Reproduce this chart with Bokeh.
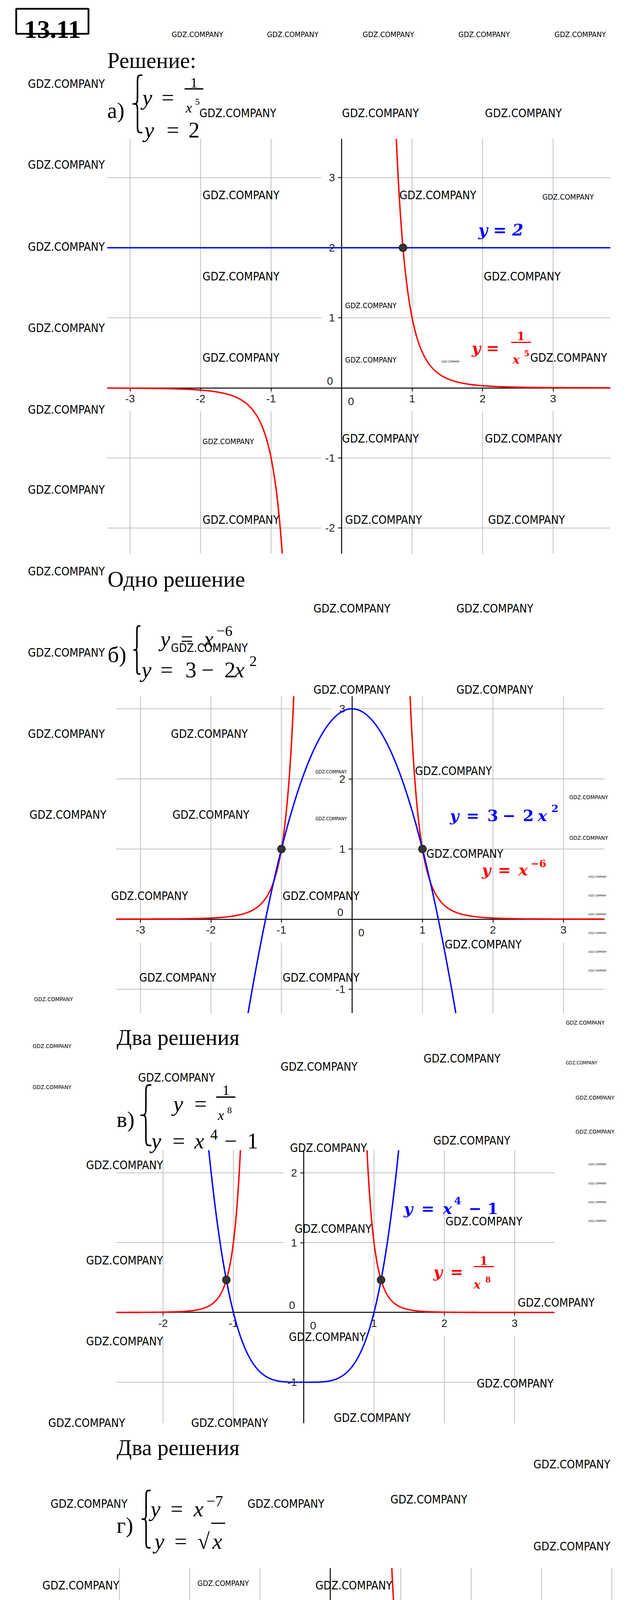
import subprocess
import numpy as np
from bokeh.plotting import figure
from bokeh.layouts import column
from bokeh.models import Range1d, LinearAxis, FixedTicker, LabelSet, ColumnDataSource
from bokeh.core.properties import value
from bokeh.embed import file_html
from bokeh.resources import INLINE

# ---------------- chart data ----------------
# а) y = 1/x^5 , y = 2
a_xticks = [-3, -2, -1, 1, 2, 3]
a_yticks = [-2, -1, 1, 2, 3]
a_const_y = 2.0
a_sol_x = [0.871]
a_sol_y = [2.0]

# б) y = x^-6 , y = 3 - 2x^2
b_xticks = [-3, -2, -1, 1, 2, 3]
b_yticks = [-1, 1, 2, 3]
b_sol_x = [-1.0, 1.0]
b_sol_y = [1.0, 1.0]

# в) y = 1/x^8 , y = x^4 - 1
c_xticks = [-2, -1, 1, 2, 3]
c_yticks = [-1, 1, 2]
c_sol_x = [-1.100, 1.100]
c_sol_y = [0.466, 0.466]

# г) y = x^-7 , y = sqrt(x)
d_xticks = [-3, -2, -1, 1, 2, 3, 4]
d_yticks = [-2, -1, 1, 2]
d_sol_x = [1.0]
d_sol_y = [1.0]


# the graphed functions, as written in the systems
def fa_red(x): return 1.0 / x ** 5
def fa_blue(x): return np.full_like(x, a_const_y)
def fb_red(x): return 1.0 / x ** 6
def fb_blue(x): return 3.0 - 2.0 * x ** 2
def fc_red(x): return 1.0 / x ** 8
def fc_blue(x): return x ** 4 - 1.0
def fd_red(x): return 1.0 / x ** 7
def fd_blue(x): return np.sqrt(x)


RED = "#ff0000"
BLUE = "#0000ff"
GRID = "#c0c0c0"

# ---------------- page / layout ----------------
OFF = 8
W = 1625
SERIF = "Liberation Serif"
MATH = "DejaVu Serif"
TICKFONT = "Liberation Sans"
SLICES = [(8, 1525), (1525, 2697), (2697, 3800), (3800, 5000), (5000, 5468)]


def pick_wm_font():
    try:
        out = subprocess.run(["fc-list", ":", "family"], capture_output=True,
                             text=True, timeout=10).stdout
    except Exception:
        out = ""
    fams = set()
    for line in out.splitlines():
        for f in line.split(","):
            fams.add(f.strip())
    for name, factor in [("Liberation Sans Narrow", 6.1),
                         ("DejaVu Sans Condensed", 6.8),
                         ("Liberation Sans", 7.45)]:
        if name in fams:
            return name, factor
    return "Liberation Sans", 7.45


WM_FONT, WM_FACTOR = pick_wm_font()

# panel boxes (page px), origin px and px per unit
PANELS = {
    "a": dict(box=(282, 363, 1570, 1425), origin=(882.0, 1000.5), unit=(180.5, 179.4),
              xt=a_xticks, yt=a_yticks, sol=(a_sol_x, a_sol_y),
              curves=[(fa_red, -10, -0.02, RED), (fa_red, 0.02, 10, RED),
                      (fa_blue, -10, 10, BLUE)]),
    "b": dict(box=(305, 1790, 1555, 2601), origin=(908.5, 2360.5), unit=(180.5, 179.5),
              xt=b_xticks, yt=b_yticks, sol=(b_sol_x, b_sol_y),
              curves=[(fb_red, -10, -0.02, RED), (fb_red, 0.02, 10, RED),
                      (fb_blue, -10, 10, BLUE)]),
    "c": dict(box=(305, 2952, 1427, 3651), origin=(785.0, 3367.3), unit=(180.0, 178.7),
              xt=c_xticks, yt=c_yticks, sol=(c_sol_x, c_sol_y),
              curves=[(fc_red, -10, -0.02, RED), (fc_red, 0.02, 10, RED),
                      (fc_blue, -10, 10, BLUE)]),
    "d": dict(box=(273, 4022, 1598, 4901), origin=(853.4, 4486.0), unit=(180.1, 178.5),
              xt=d_xticks, yt=d_yticks, sol=(d_sol_x, d_sol_y),
              curves=[(fd_red, -10, -0.02, RED), (fd_red, 0.02, 10, RED),
                      (fd_blue, 0.0, 10, BLUE)]),
}


def clip_curve(xs, ys, lo, hi):
    ox, oy = [], []
    inside = (ys >= lo) & (ys <= hi)
    n = len(xs)
    for i in range(n):
        if not inside[i]:
            continue
        if i > 0 and not inside[i - 1]:
            b = hi if ys[i - 1] > hi else lo
            t = (b - ys[i - 1]) / (ys[i] - ys[i - 1])
            ox.append(xs[i - 1] + t * (xs[i] - xs[i - 1])); oy.append(b)
        ox.append(xs[i]); oy.append(ys[i])
        if i < n - 1 and not inside[i + 1]:
            b = hi if ys[i + 1] > hi else lo
            t = (b - ys[i]) / (ys[i + 1] - ys[i])
            ox.append(xs[i] + t * (xs[i + 1] - xs[i])); oy.append(b)
    return ox, oy


def draw_panel(p, ys_, ye_, key):
    cfg = PANELS[key]
    left, top, right, bottom = cfg["box"]
    X0, Y0 = cfg["origin"]
    sx, sy = cfg["unit"]
    xt, yt = cfg["xt"], cfg["yt"]
    xmin, xmax = (left - X0) / sx, (right - X0) / sx
    ymax, ymin = (Y0 - top) / sy, (Y0 - bottom) / sy
    xn, yn = "x_" + key, "y_" + key
    p.extra_x_ranges[xn] = Range1d((OFF - X0) / sx, (OFF + W - X0) / sx)
    p.extra_y_ranges[yn] = Range1d((Y0 - ye_) / sy, (Y0 - ys_) / sy)
    kw = dict(x_range_name=xn, y_range_name=yn)

    # grid, with the little white gaps GeoGebra leaves around the tick labels
    g1, g2 = 14.0 / sy, 60.0 / sy
    gx = 52.0 / sx
    n = len(xt)
    p.segment(x0=xt + xt, y0=[ymax] * n + [-g2] * n, x1=xt + xt, y1=[-g1] * n + [ymin] * n,
              line_color=GRID, line_width=2, level="image", **kw)
    m = len(yt)
    p.segment(x0=[xmin] * m + [0] * m, y0=yt + yt, x1=[-gx] * m + [xmax] * m, y1=yt + yt,
              line_color=GRID, line_width=2, level="image", **kw)

    # axes through the origin (GeoGebra prints short hyphens for negatives)
    common = dict(fixed_location=0, major_label_text_font=TICKFONT,
                  major_label_text_font_size="28px", major_label_text_color="#1e1e1e",
                  major_tick_in=0, minor_tick_line_color=None, axis_line_color="black",
                  axis_line_width=2.5, major_tick_line_color="black", major_tick_line_width=2,
                  level="underlay", **kw)
    xa = LinearAxis(bounds=(xmin, xmax), ticker=FixedTicker(ticks=xt), major_tick_out=8,
                    major_label_standoff=10,
                    major_label_overrides={v: "%d" % v for v in xt if v < 0}, **common)
    ya = LinearAxis(bounds=(ymin, ymax), ticker=FixedTicker(ticks=yt), major_tick_out=9,
                    major_label_standoff=8,
                    major_label_overrides={v: "%d" % v for v in yt if v < 0}, **common)
    p.add_layout(xa, "below")
    p.add_layout(ya, "left")

    # the two "0" labels at the origin
    lab = dict(text_font=value(TICKFONT), text_font_size="28px", text_color="#1e1e1e",
               text_baseline="middle", level="underlay", **kw)
    z1 = ColumnDataSource(dict(x=[0], y=[0], t=["0"]))
    p.add_layout(LabelSet(x="x", y="y", text="t", source=z1, x_offset=24, y_offset=-34,
                          text_align="center", **lab), "center")
    z2 = ColumnDataSource(dict(x=[0], y=[0], t=["0"]))
    p.add_layout(LabelSet(x="x", y="y", text="t", source=z2, x_offset=-22, y_offset=18,
                          text_align="right", **lab), "center")

    # curves
    for f, x0, x1, color in cfg["curves"]:
        xs = np.linspace(max(x0, xmin), min(x1, xmax), 6000)
        cx, cy = clip_curve(xs, f(xs), ymin, ymax)
        if cx:
            p.line(cx, cy, line_color=color, line_width=3.6, **kw)

    sxs, sys_ = cfg["sol"]
    p.scatter(sxs, sys_, size=20, fill_color="#333333", line_color="#1a1a1a",
              line_width=1.5, **kw)


# ---------------- page texts ----------------
TEXTS = []


def put(text, x, y, size, style="normal", font=SERIF, color="black", align="left"):
    TEXTS.append(dict(text=text, x=x, y=y, size=size, style=style, font=font,
                      color=color, align=align))


M = 57
put("13.11", 142, 83, 66, "bold", align="center")
put("Решение:", 282, 162, M)

# а)
put("а)", 282, 290, M)
put("y", 372, 257, M, "italic"); put("=", 421, 257, M)
put("1", 504, 219, 36, align="center")
put("x", 483, 283, 36, "italic"); put("5", 507, 268, 24)
put("y", 377, 340, M, "italic"); put("=", 434, 340, M); put("2", 490, 340, M)
put("Одно решение", 283, 1490, M)

# б)
put("б)", 283, 1683, M)
put("y", 418, 1643, M, "italic"); put("=", 470, 1643, M); put("x", 529, 1643, M, "italic")
put("−6", 562, 1623, 38)
put("y", 370, 1722, M, "italic"); put("=", 418, 1722, M); put("3", 482, 1722, M)
put("−", 523, 1722, M); put("2", 582, 1722, M); put("x", 608, 1722, M, "italic")
put("2", 646, 1700, 38)
put("Два решения", 306, 2663, M)

# в)
put("в)", 306, 2873, M)
put("y", 451, 2833, M, "italic"); put("=", 505, 2833, M)
put("1", 586, 2798, 36, align="center")
put("x", 565, 2862, 36, "italic"); put("8", 589, 2850, 24)
put("y", 395, 2928, M, "italic"); put("=", 449, 2928, M); put("x", 505, 2928, M, "italic")
put("4", 546, 2912, 38); put("−", 582, 2928, M); put("1", 640, 2928, M)
put("Два решения", 306, 3713, M)

# г)
put("г)", 306, 3912, M)
put("y", 393, 3870, M, "italic"); put("=", 444, 3870, M); put("x", 503, 3870, M, "italic")
put("−7", 536, 3850, 40)
put("y", 403, 3953, M, "italic"); put("=", 454, 3953, M); put("√", 513, 3953, M)
put("x", 551, 3953, M, "italic")
put("Одно решение", 276, 4964, M)

put("Ответ:", 276, 5119, M)
put("а) Одно решение", 276, 5196, M)
put("б) Два решения", 276, 5272, M)
put("в) Два решения", 276, 5349, M)
put("г) Одно решение", 276, 5426, M)

# graph labels (inside the plots)
put("y = 2", 1232, 596, 41, "bold italic", MATH, BLUE)
put("y =", 1215, 898, 40, "bold italic", MATH, RED)
put("1", 1341, 867, 30, "bold", MATH, RED, "center")
put("x", 1320, 928, 30, "bold italic", MATH, RED); put("5", 1349, 912, 20, "bold", MATH, RED)

put("y", 1159, 2095, 40, "bold italic", MATH, BLUE)
put("=", 1201, 2095, 40, "bold", MATH, BLUE); put("3", 1255, 2095, 40, "bold", MATH, BLUE)
put("−", 1294, 2095, 40, "bold", MATH, BLUE); put("2", 1346, 2095, 40, "bold", MATH, BLUE)
put("x", 1384, 2095, 40, "bold italic", MATH, BLUE); put("2", 1419, 2077, 26, "bold", MATH, BLUE)
put("y", 1241, 2234, 40, "bold italic", MATH, RED); put("=", 1282, 2234, 40, "bold", MATH, RED)
put("x", 1335, 2234, 40, "bold italic", MATH, RED); put("−6", 1366, 2218, 26, "bold", MATH, RED)

put("y", 1041, 3101, 40, "bold italic", MATH, BLUE); put("=", 1086, 3101, 40, "bold", MATH, BLUE)
put("x", 1141, 3101, 40, "bold italic", MATH, BLUE); put("4", 1170, 3081, 26, "bold", MATH, BLUE)
put("−", 1207, 3101, 40, "bold", MATH, BLUE); put("1", 1255, 3101, 40, "bold", MATH, BLUE)
put("y", 1117, 3263, 40, "bold italic", MATH, RED); put("=", 1160, 3263, 40, "bold", MATH, RED)
put("1", 1246, 3234, 30, "bold", MATH, RED, "center")
put("x", 1220, 3296, 30, "bold italic", MATH, RED); put("8", 1250, 3283, 20, "bold", MATH, RED)

put("y", 1127, 4147, 40, "bold italic", MATH, BLUE); put("=", 1170, 4147, 40, "bold", MATH, BLUE)
put("√", 1228, 4147, 40, "bold", MATH, BLUE); put("x", 1268, 4147, 40, "bold italic", MATH, BLUE)
put("y", 1185, 4364, 40, "bold italic", MATH, RED); put("=", 1228, 4364, 40, "bold", MATH, RED)
put("x", 1278, 4364, 40, "bold italic", MATH, RED); put("−7", 1312, 4346, 26, "bold", MATH, RED)

# fraction bars / radical bars: (x0, x1, y, color, width)
BARS = [(480, 528, 235, "black", 3.5), (561, 610, 2816, "black", 3.5),
        (548, 584, 3907, "black", 3), (1316, 1367, 884, RED, 3),
        (1220, 1272, 3250, RED, 3), (1260, 1304, 4110, BLUE, 3)]

# braces of the systems: (x_left, x_right, top, bottom)
BRACES = [(347, 372, 200, 347), (349, 367, 1610, 1733),
          (367, 395, 2785, 2940), (370, 393, 3823, 3970)]


def brace_pts(xl, xr, top, bot, n=24):
    xm = (xl + xr) / 2.0
    mid = (top + bot) / 2.0
    d = (xr - xl) * 1.1
    t = np.linspace(0, 1, n)[:, None]

    def bez(p0, p1, p2, p3):
        p0, p1, p2, p3 = map(np.array, (p0, p1, p2, p3))
        return (1 - t) ** 3 * p0 + 3 * (1 - t) ** 2 * t * p1 + 3 * (1 - t) * t ** 2 * p2 + t ** 3 * p3

    parts = [bez((xr, top), (xm, top), (xm, top), (xm, top + d)),
             np.array([[xm, top + d], [xm, mid - d]]),
             bez((xm, mid - d), (xm, mid), (xm, mid), (xl, mid)),
             bez((xl, mid), (xm, mid), (xm, mid), (xm, mid + d)),
             np.array([[xm, mid + d], [xm, bot - d]]),
             bez((xm, bot - d), (xm, bot), (xm, bot), (xr, bot))]
    P = np.vstack(parts)
    return P[:, 0].tolist(), P[:, 1].tolist()


# ---------------- watermarks ----------------
WM_W = {"L": 190, "M": 127, "S": 96, "T": 78, "X": 45}
WM = [
    ("M", 447, 96), ("M", 691, 96), ("M", 936, 96), ("M", 1181, 96), ("M", 1427, 96),
    ("L", 79, 222), ("L", 518, 297), ("L", 883, 297), ("L", 1249, 297), ("L", 79, 429),
    ("L", 526, 507), ("L", 1030, 507), ("M", 1396, 512), ("L", 79, 639), ("L", 526, 715),
    ("L", 1246, 715), ("M", 891, 790), ("L", 79, 847), ("L", 526, 923), ("M", 891, 929),
    ("X", 1138, 933), ("L", 1365, 923), ("L", 79, 1056), ("M", 526, 1138), ("L", 883, 1130),
    ("L", 1249, 1130), ("L", 79, 1261), ("L", 526, 1338), ("L", 891, 1338), ("L", 1257, 1338),
    ("L", 79, 1470), ("L", 810, 1565), ("L", 1176, 1565), ("L", 79, 1678), ("L", 445, 1666),
    ("L", 810, 1773), ("L", 1176, 1773), ("L", 79, 1886), ("L", 445, 1886), ("T", 815, 1983),
    ("L", 1070, 1981), ("S", 1465, 2048), ("T", 815, 2103), ("L", 83, 2093), ("L", 449, 2093),
    ("S", 1465, 2152), ("L", 1099, 2193), ("X", 1514, 2252), ("L", 292, 2301), ("L", 731, 2301),
    ("X", 1514, 2300), ("X", 1514, 2348), ("X", 1514, 2396), ("L", 1146, 2425),
    ("X", 1514, 2444), ("X", 1514, 2492), ("L", 364, 2510), ("L", 731, 2510), ("S", 95, 2565),
    ("S", 1456, 2625), ("S", 91, 2685), ("L", 1092, 2717), ("T", 1456, 2728), ("L", 726, 2738),
    ("L", 361, 2766), ("S", 91, 2790), ("S", 1481, 2817), ("S", 1481, 2904), ("L", 1117, 2927),
    ("L", 750, 2946), ("X", 1514, 2988), ("L", 228, 2990), ("X", 1514, 3037), ("X", 1514, 3085),
    ("X", 1514, 3133), ("L", 1148, 3134), ("L", 762, 3153), ("L", 228, 3234), ("L", 1333, 3342),
    ("L", 747, 3430), ("L", 228, 3441), ("L", 1228, 3549), ("L", 862, 3637), ("L", 131, 3650),
    ("L", 497, 3650), ("L", 1373, 3756), ("L", 1007, 3846), ("L", 137, 3857), ("L", 641, 3857),
    ("L", 1373, 3966), ("L", 116, 4066), ("M", 513, 4061), ("L", 815, 4066), ("M", 513, 4200),
    ("L", 1373, 4203), ("L", 116, 4273), ("L", 831, 4273), ("M", 530, 4341), ("L", 1373, 4410),
    ("L", 79, 4483), ("T", 509, 4476), ("M", 707, 4505), ("L", 1007, 4551), ("L", 1373, 4617),
    ("S", 493, 4645), ("M", 707, 4645), ("L", 116, 4688), ("L", 1007, 4756), ("L", 606, 4864),
    ("L", 1373, 4864), ("L", 116, 4896), ("L", 1007, 4965), ("L", 641, 5073), ("L", 1373, 5073),
    ("L", 79, 5104), ("L", 1007, 5173), ("L", 1373, 5281), ("L", 641, 5294), ("L", 79, 5312),
    ("M", 1072, 5376),
]


# ---------------- build the page as stacked slices ----------------
def make_slice(ys_, ye_):
    p = figure(width=W, height=ye_ - ys_, output_backend="svg", toolbar_location=None,
               x_range=Range1d(OFF, OFF + W), y_range=Range1d(ye_, ys_),
               x_axis_type=None, y_axis_type=None, min_border=0, title=None)
    p.outline_line_color = None
    p.background_fill_color = "white"
    p.border_fill_color = "white"

    for key, cfg in PANELS.items():
        if cfg["box"][1] < ye_ and cfg["box"][3] > ys_:
            draw_panel(p, ys_, ye_, key)

    sel = [t for t in TEXTS if t["y"] - 0.85 * t["size"] < ye_ and t["y"] + 0.3 * t["size"] > ys_]
    if sel:
        src = ColumnDataSource(dict(
            x=[t["x"] for t in sel], y=[t["y"] for t in sel], text=[t["text"] for t in sel],
            size=["%dpx" % t["size"] for t in sel], font=[t["font"] for t in sel],
            style=[t["style"] for t in sel], color=[t["color"] for t in sel],
            align=[t["align"] for t in sel]))
        p.text(x="x", y="y", text="text", source=src, text_font="font",
               text_font_size="size", text_font_style="style", text_color="color",
               text_align="align", text_baseline="alphabetic")

    bars = [b for b in BARS if ys_ <= b[2] < ye_]
    if bars:
        p.segment(x0=[b[0] for b in bars], y0=[b[2] for b in bars],
                  x1=[b[1] for b in bars], y1=[b[2] for b in bars],
                  line_color=[b[3] for b in bars], line_width=[b[4] for b in bars])

    if ys_ <= 30 < ye_:
        p.quad(left=[49], right=[234], top=[30], bottom=[94], fill_color=None,
               line_color="black", line_width=4.5)

    bx, by = [], []
    for xl, xr, tp, bt in BRACES:
        if tp < ye_ and bt > ys_:
            a, b = brace_pts(xl, xr, tp, bt)
            bx.append(a); by.append(b)
    if bx:
        p.multi_line(bx, by, line_color="black", line_width=4)

    wms = []
    for cls, x, y in WM:
        fs = WM_W[cls] / WM_FACTOR * 1.05
        if y - 0.6 * fs < ye_ and y + 0.6 * fs > ys_:
            wms.append((x, y, fs))
    if wms:
        wsrc = ColumnDataSource(dict(x=[w[0] for w in wms], y=[w[1] for w in wms],
                                     text=["GDZ.COMPANY"] * len(wms),
                                     size=["%.1fpx" % w[2] for w in wms]))
        p.text(x="x", y="y", text="text", source=wsrc, text_font=value(WM_FONT),
               text_font_size="size", text_color="black", text_align="left",
               text_baseline="middle")
    return p


figs = [make_slice(a, b) for a, b in SLICES]
page = column(*figs, spacing=0)

open("out.html", "w").write(file_html(page, INLINE))
